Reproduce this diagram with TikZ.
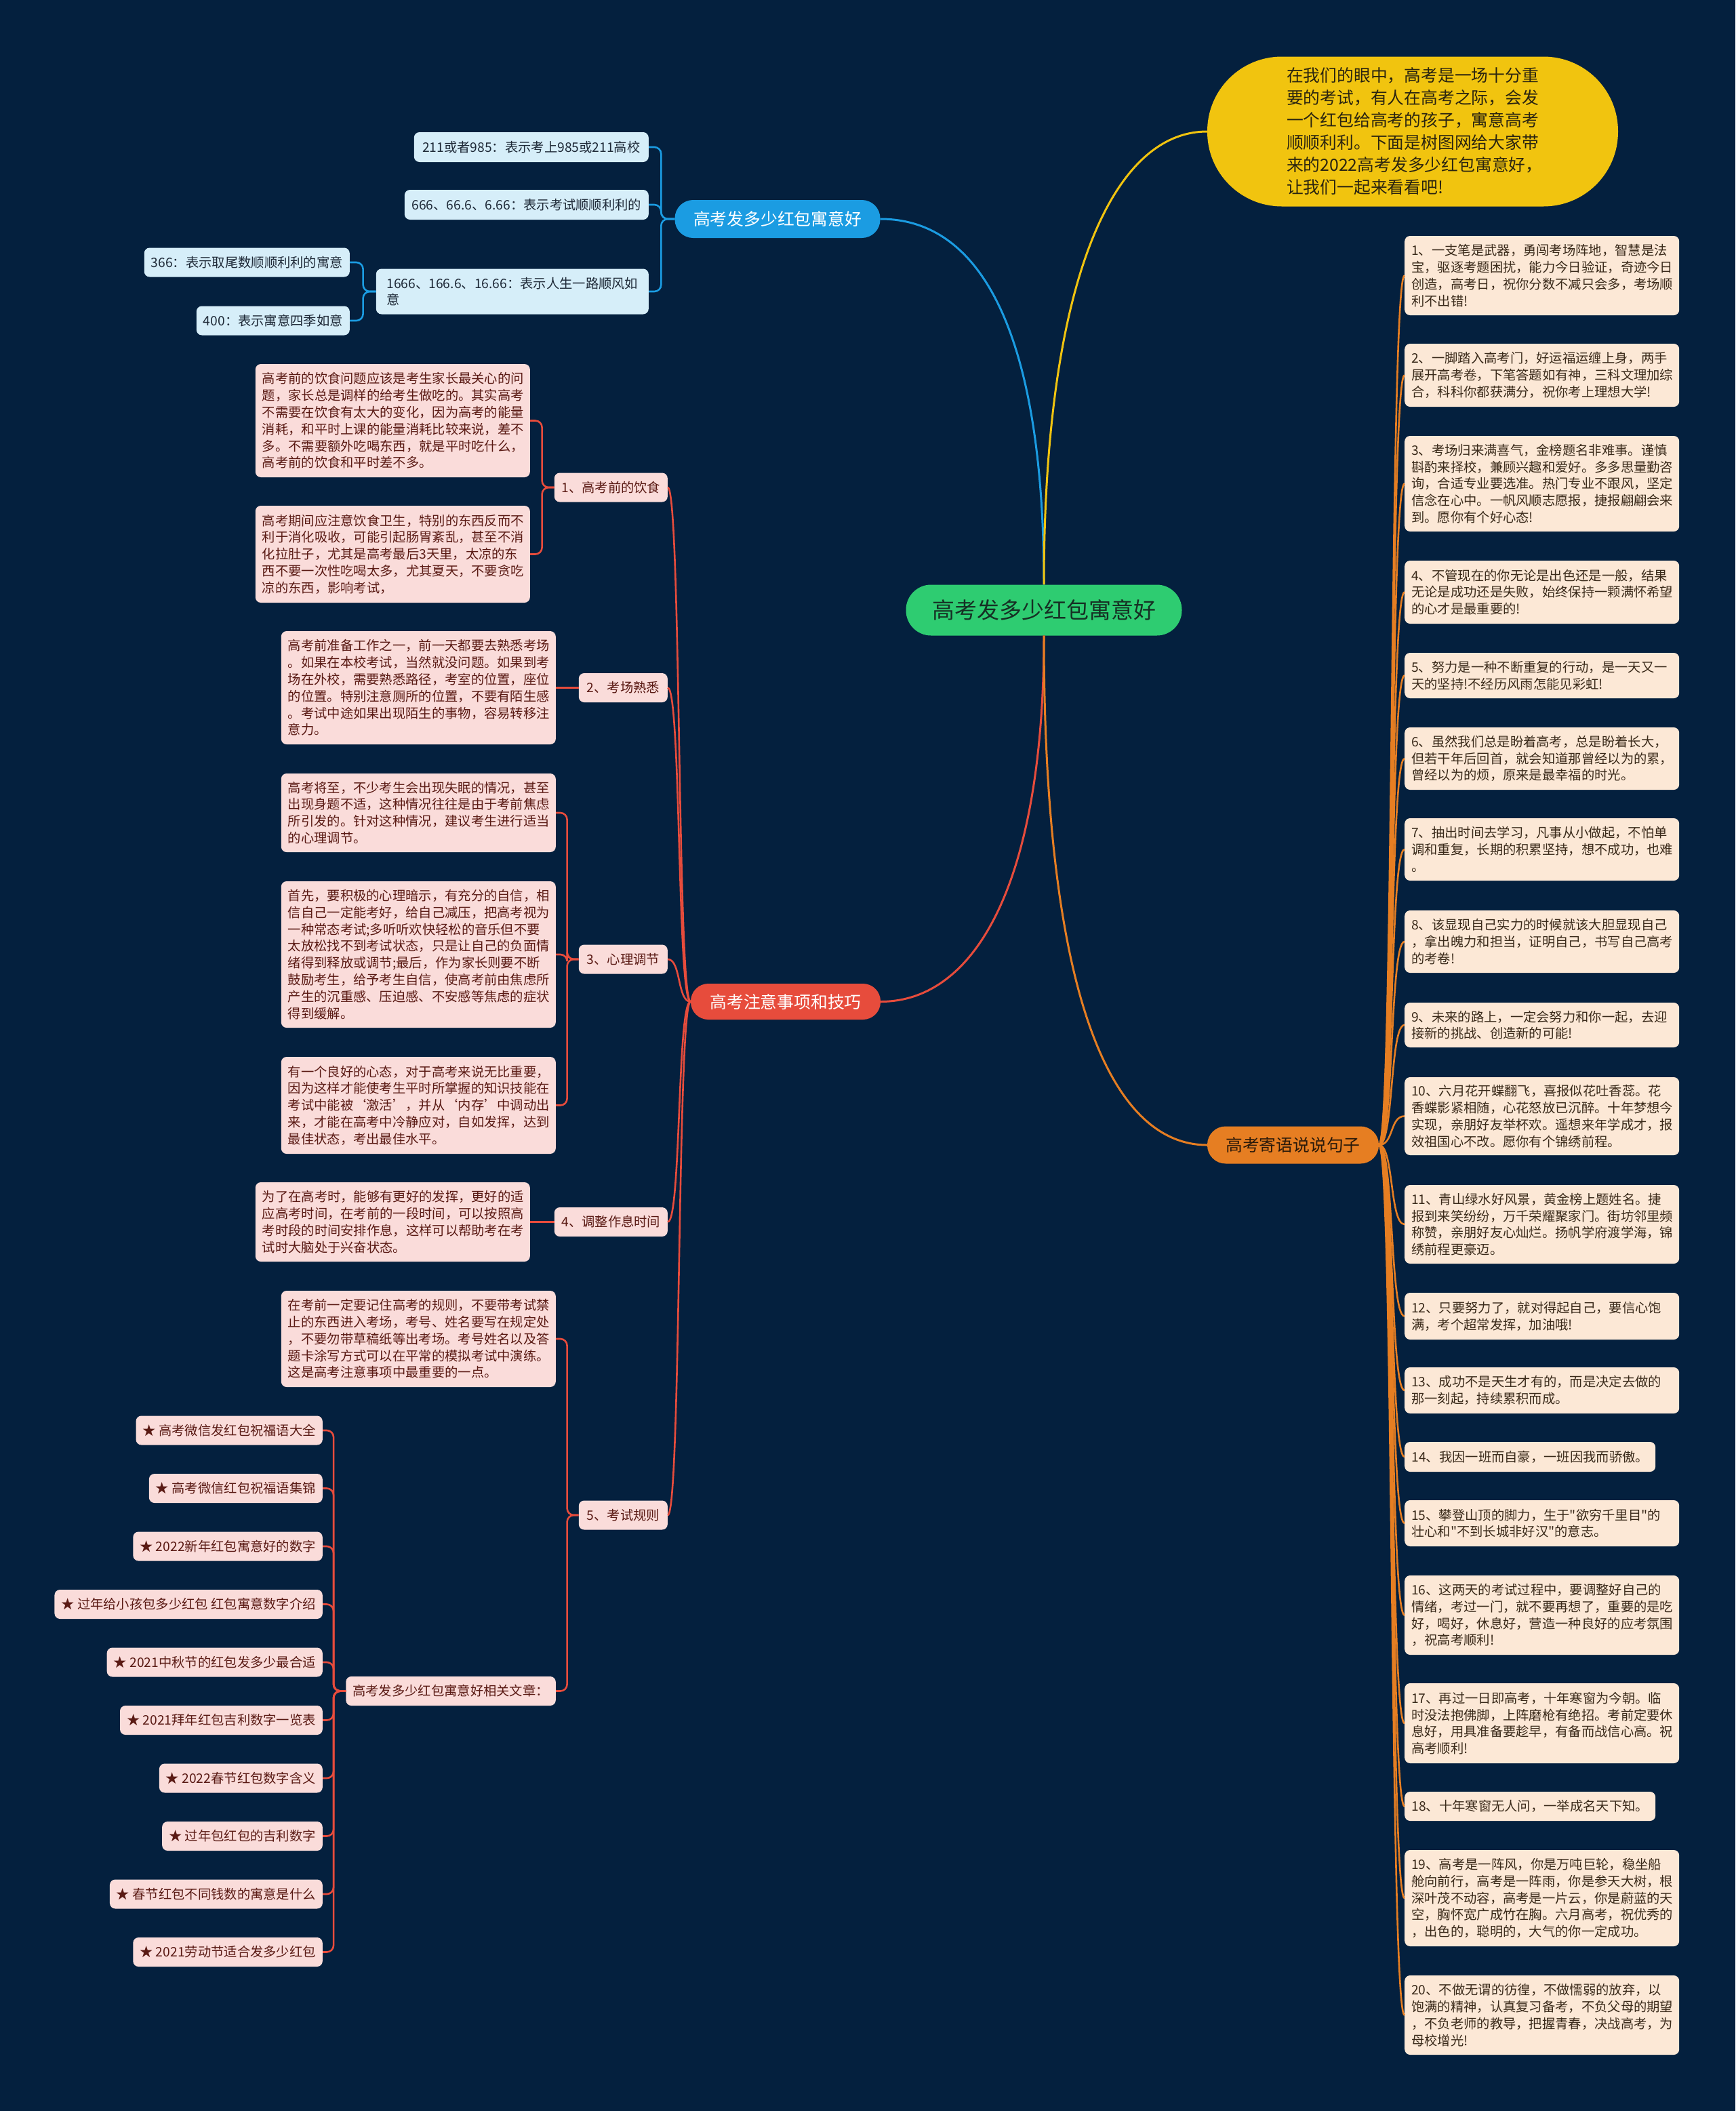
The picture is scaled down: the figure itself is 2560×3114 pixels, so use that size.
\documentclass[tikz,border=0pt]{standalone}
\usepackage{fontspec}
\setmainfont{Noto Sans CJK SC}[Ligatures=TeXOff]
\definecolor{bg}{HTML}{04203E}
\definecolor{rootg}{HTML}{2ECC71}
\definecolor{roottxt}{HTML}{163024}
\definecolor{yel}{HTML}{F1C40F}
\definecolor{yeltxt}{HTML}{2A2410}
\definecolor{blu}{HTML}{1B9CE2}
\definecolor{redc}{HTML}{E74C3C}
\definecolor{ora}{HTML}{E67E22}
\definecolor{oratxt2}{HTML}{2B1A0A}
\definecolor{bluleaf}{HTML}{D6EEF9}
\definecolor{redleaf}{HTML}{FADCDA}
\definecolor{oraleaf}{HTML}{FCE8D6}
\definecolor{redtxt}{HTML}{5A1A14}
\definecolor{oratxt}{HTML}{3A2A1A}
\definecolor{blutxt}{HTML}{1F2A38}
\newcommand{\leaffont}{\fontsize{19.3pt}{24.8pt}\selectfont}
\newcommand{\brfont}{\fontsize{24.8pt}{30pt}\selectfont}
\newcommand{\rootfont}{\fontsize{33pt}{40pt}\selectfont}
\newcommand{\yelfont}{\fontsize{24.8pt}{33pt}\selectfont}
\begin{document}
\begin{tikzpicture}[x=1pt,y=-1pt,
  leaf/.style={rounded corners=8pt, inner xsep=10pt, inner ysep=4pt, font=\leaffont, align=left},
  bleaf/.style={leaf, fill=bluleaf, text=blutxt},
  rleaf/.style={leaf, fill=redleaf, text=redtxt},
  oleaf/.style={leaf, fill=oraleaf, text=oratxt},
  para/.style={text width=385pt},
  brnode/.style={font=\brfont, inner sep=0pt},
  bconn/.style={draw=blu, line width=2.6pt, rounded corners=10pt},
  rconn/.style={draw=redc, line width=2.6pt},
  rbr/.style={draw=redc, line width=2.6pt, rounded corners=10pt},
  oconn/.style={draw=ora, line width=2.6pt}
]
\fill[bg] (0,0) rectangle (2560,3114);
\useasboundingbox (0,0) rectangle (2560,3114);

% root and branches
\node[fill=rootg, text=roottxt, font=\rootfont, rounded corners=37pt, minimum width=407pt, minimum height=75pt, inner sep=0pt] (root) at (1540,900) {高考发多少红包寓意好};
\node[fill=yel, text=yeltxt, font=\yelfont, rounded corners=110pt, minimum width=606pt, minimum height=221pt, align=left, text width=372pt] (yel) at (2084,194) {在我们的眼中，高考是一场十分重\\要的考试，有人在高考之际，会发\\一个红包给高考的孩子，寓意高考\\顺顺利利。下面是树图网给大家带\\来的2022高考发多少红包寓意好，\\让我们一起来看看吧!};
\node[brnode, fill=blu, text=white, minimum width=303pt, minimum height=56pt, rounded corners=27pt] (blue) at (1147,323) {高考发多少红包寓意好};
\node[brnode, fill=redc, text=white, minimum width=280pt, minimum height=53pt, rounded corners=26pt] (red) at (1159,1477.5) {高考注意事项和技巧};
\node[brnode, fill=ora, text=oratxt2, minimum width=253pt, minimum height=55pt, rounded corners=27pt] (orange) at (1907.5,1689) {高考寄语说说句子};

% blue leaves
\node[bleaf, anchor=east, minimum width=346pt, minimum height=44pt] (b1) at (957,217) {211或者985：表示考上985或211高校};
\node[bleaf, anchor=east, minimum width=360pt, minimum height=44pt] (b2) at (957,302) {666、66.6、6.66：表示考试顺顺利利的};
\node[bleaf, anchor=east, minimum width=402pt, minimum height=67pt] (b3) at (957,430) {1666、166.6、16.66：表示人生一路顺风如\\意};
\node[bleaf, anchor=east, minimum width=302pt, minimum height=43pt] (b4) at (516,387) {366：表示取尾数顺顺利利的寓意};
\node[bleaf, anchor=east, minimum width=226pt, minimum height=43pt] (b5) at (516,473) {400：表示寓意四季如意};

% red sub nodes
\node[rleaf, anchor=east, minimum width=167pt, minimum height=43pt] (r1) at (985,719) {1、高考前的饮食};
\node[rleaf, anchor=east, minimum width=131pt, minimum height=43pt] (r2) at (985,1014.5) {2、考场熟悉};
\node[rleaf, anchor=east, minimum width=131pt, minimum height=43pt] (r3) at (985,1415) {3、心理调节};
\node[rleaf, anchor=east, minimum width=167pt, minimum height=43pt] (r4) at (985,1802.5) {4、调整作息时间};
\node[rleaf, anchor=east, minimum width=131pt, minimum height=43pt] (r5) at (985,2235) {5、考试规则};

% red leaves
\node[rleaf, para, anchor=east, minimum height=167pt] (r1a) at (782,620.5) {高考前的饮食问题应该是考生家长最关心的问\\题，家长总是调样的给考生做吃的。其实高考\\不需要在饮食有太大的变化，因为高考的能量\\消耗，和平时上课的能量消耗比较来说，差不\\多。不需要额外吃喝东西，就是平时吃什么，\\高考前的饮食和平时差不多。};
\node[rleaf, para, anchor=east, minimum height=143pt] (r1b) at (782,817.5) {高考期间应注意饮食卫生，特别的东西反而不\\利于消化吸收，可能引起肠胃紊乱，甚至不消\\化拉肚子，尤其是高考最后3天里，太凉的东\\西不要一次性吃喝太多，尤其夏天，不要贪吃\\凉的东西，影响考试，};
\node[rleaf, para, anchor=east, minimum height=167pt] (r2a) at (820,1014.5) {高考前准备工作之一，前一天都要去熟悉考场\\。如果在本校考试，当然就没问题。如果到考\\场在外校，需要熟悉路径，考室的位置，座位\\的位置。特别注意厕所的位置，不要有陌生感\\。考试中途如果出现陌生的事物，容易转移注\\意力。};
\node[rleaf, para, anchor=east, minimum height=116pt] (r3a) at (820,1199) {高考将至，不少考生会出现失眠的情况，甚至\\出现身题不适，这种情况往往是由于考前焦虑\\所引发的。针对这种情况，建议考生进行适当\\的心理调节。};
\node[rleaf, para, anchor=east, minimum height=216pt] (r3b) at (820,1408) {首先，要积极的心理暗示，有充分的自信，相\\信自己一定能考好，给自己减压，把高考视为\\一种常态考试;多听听欢快轻松的音乐但不要\\太放松找不到考试状态，只是让自己的负面情\\绪得到释放或调节;最后，作为家长则要不断\\鼓励考生，给予考生自信，使高考前由焦虑所\\产生的沉重感、压迫感、不安感等焦虑的症状\\得到缓解。};
\node[rleaf, para, anchor=east, minimum height=143pt] (r3c) at (820,1630.5) {有一个良好的心态，对于高考来说无比重要，\\因为这样才能使考生平时所掌握的知识技能在\\考试中能被‘激活’，并从‘内存’中调动出\\来，才能在高考中冷静应对，自如发挥，达到\\最佳状态，考出最佳水平。};
\node[rleaf, para, anchor=east, minimum height=117pt] (r4a) at (782,1802.5) {为了在高考时，能够有更好的发挥，更好的适\\应高考时间，在考前的一段时间，可以按照高\\考时段的时间安排作息，这样可以帮助考在考\\试时大脑处于兴奋状态。};
\node[rleaf, para, anchor=east, minimum height=142pt] (r5a) at (820,1975) {在考前一定要记住高考的规则，不要带考试禁\\止的东西进入考场，考号、姓名要写在规定处\\，不要勿带草稿纸等出考场。考号姓名以及答\\题卡涂写方式可以在平常的模拟考试中演练。\\这是高考注意事项中最重要的一点。};
\node[rleaf, anchor=east, minimum width=308pt, minimum height=43pt] (r5b) at (820,2494.5) {高考发多少红包寓意好相关文章：};

% stars
\node[rleaf, anchor=east, minimum width=272pt, minimum height=43pt] (s1) at (476,2110) {★ 高考微信发红包祝福语大全};
\node[rleaf, anchor=east, minimum width=253pt, minimum height=43pt] (s2) at (476,2195.5) {★ 高考微信红包祝福语集锦};
\node[rleaf, anchor=east, minimum width=278pt, minimum height=43pt] (s3) at (476,2281) {★ 2022新年红包寓意好的数字};
\node[rleaf, anchor=east, minimum width=393pt, minimum height=43pt] (s4) at (476,2366.5) {★ 过年给小孩包多少红包 红包寓意数字介绍};
\node[rleaf, anchor=east, minimum width=317pt, minimum height=43pt] (s5) at (476,2452) {★ 2021中秋节的红包发多少最合适};
\node[rleaf, anchor=east, minimum width=298pt, minimum height=43pt] (s6) at (476,2537.5) {★ 2021拜年红包吉利数字一览表};
\node[rleaf, anchor=east, minimum width=240pt, minimum height=43pt] (s7) at (476,2623) {★ 2022春节红包数字含义};
\node[rleaf, anchor=east, minimum width=233pt, minimum height=43pt] (s8) at (476,2708.5) {★ 过年包红包的吉利数字};
\node[rleaf, anchor=east, minimum width=310pt, minimum height=43pt] (s9) at (476,2794) {★ 春节红包不同钱数的寓意是什么};
\node[rleaf, anchor=east, minimum width=278pt, minimum height=43pt] (s10) at (476,2879.5) {★ 2021劳动节适合发多少红包};

% orange leaves
\node[oleaf, para, anchor=west, minimum height=117pt] (o1) at (2072,406.5) {1、一支笔是武器，勇闯考场阵地，智慧是法\\宝，驱逐考题困扰，能力今日验证，奇迹今日\\创造，高考日，祝你分数不减只会多，考场顺\\利不出错!};
\node[oleaf, para, anchor=west, minimum height=93pt] (o2) at (2072,553.5) {2、一脚踏入高考门，好运福运缠上身，两手\\展开高考卷，下笔答题如有神，三科文理加综\\合，科科你都获满分，祝你考上理想大学!};
\node[oleaf, para, anchor=west, minimum height=141pt] (o3) at (2072,713.5) {3、考场归来满喜气，金榜题名非难事。谨慎\\斟酌来择校，兼顾兴趣和爱好。多多思量勤咨\\询，合适专业要选准。热门专业不跟风，坚定\\信念在心中。一帆风顺志愿报，捷报翩翩会来\\到。愿你有个好心态!};
\node[oleaf, para, anchor=west, minimum height=93pt] (o4) at (2072,873.5) {4、不管现在的你无论是出色还是一般，结果\\无论是成功还是失败，始终保持一颗满怀希望\\的心才是最重要的!};
\node[oleaf, para, anchor=west, minimum height=67pt] (o5) at (2072,996.5) {5、努力是一种不断重复的行动，是一天又一\\天的坚持!不经历风雨怎能见彩虹!};
\node[oleaf, para, anchor=west, minimum height=92pt] (o6) at (2072,1119) {6、虽然我们总是盼着高考，总是盼着长大，\\但若干年后回首，就会知道那曾经以为的累，\\曾经以为的烦，原来是最幸福的时光。};
\node[oleaf, para, anchor=west, minimum height=92pt] (o7) at (2072,1253) {7、抽出时间去学习，凡事从小做起，不怕单\\调和重复，长期的积累坚持，想不成功，也难\\。};
\node[oleaf, para, anchor=west, minimum height=92pt] (o8) at (2072,1389) {8、该显现自己实力的时候就该大胆显现自己\\，拿出魄力和担当，证明自己，书写自己高考\\的考卷!};
\node[oleaf, para, anchor=west, minimum height=66pt] (o9) at (2072,1512) {9、未来的路上，一定会努力和你一起，去迎\\接新的挑战、创造新的可能!};
\node[oleaf, para, anchor=west, minimum height=115pt] (o10) at (2072,1646.5) {10、六月花开蝶翻飞，喜报似花吐香蕊。花\\香蝶影紧相随，心花怒放已沉醉。十年梦想今\\实现，亲朋好友举杯欢。遥想来年学成才，报\\效祖国心不改。愿你有个锦绣前程。};
\node[oleaf, para, anchor=west, minimum height=116pt] (o11) at (2072,1806) {11、青山绿水好风景，黄金榜上题姓名。捷\\报到来笑纷纷，万千荣耀聚家门。街坊邻里频\\称赞，亲朋好友心灿烂。扬帆学府渡学海，锦\\绣前程更豪迈。};
\node[oleaf, para, anchor=west, minimum height=69pt] (o12) at (2072,1941.5) {12、只要努力了，就对得起自己，要信心饱\\满，考个超常发挥，加油哦!};
\node[oleaf, para, anchor=west, minimum height=68pt] (o13) at (2072,2051) {13、成功不是天生才有的，而是决定去做的\\那一刻起，持续累积而成。};
\node[oleaf, anchor=west, minimum width=370pt, minimum height=44pt] (o14) at (2072,2149) {14、我因一班而自豪，一班因我而骄傲。};
\node[oleaf, para, anchor=west, minimum height=68pt] (o15) at (2072,2247) {15、攀登山顶的脚力，生于"欲穷千里目"的\\壮心和"不到长城非好汉"的意志。};
\node[oleaf, para, anchor=west, minimum height=117pt] (o16) at (2072,2382.5) {16、这两天的考试过程中，要调整好自己的\\情绪，考过一门，就不要再想了，重要的是吃\\好，喝好，休息好，营造一种良好的应考氛围\\，祝高考顺利!};
\node[oleaf, para, anchor=west, minimum height=118pt] (o17) at (2072,2542) {17、再过一日即高考，十年寒窗为今朝。临\\时没法抱佛脚，上阵磨枪有绝招。考前定要休\\息好，用具准备要趁早，有备而战信心高。祝\\高考顺利!};
\node[oleaf, anchor=west, minimum width=370pt, minimum height=43pt] (o18) at (2072,2664.5) {18、十年寒窗无人问，一举成名天下知。};
\node[oleaf, para, anchor=west, minimum height=142pt] (o19) at (2072,2800) {19、高考是一阵风，你是万吨巨轮，稳坐船\\舱向前行，高考是一阵雨，你是参天大树，根\\深叶茂不动容，高考是一片云，你是蔚蓝的天\\空，胸怀宽广成竹在胸。六月高考，祝优秀的\\，出色的，聪明的，大气的你一定成功。};
\node[oleaf, para, anchor=west, minimum height=117pt] (o20) at (2072,2972.5) {20、不做无谓的彷徨，不做懦弱的放弃，以\\饱满的精神，认真复习备考，不负父母的期望\\，不负老师的教导，把握青春，决战高考，为\\母校增光!};

% root connectors
\draw[blu, line width=3pt] (root.north) .. controls (1540,520) and (1460,323) .. (blue.east);
\draw[yel, line width=3pt] (root.north) .. controls (1540,420) and (1640,194) .. (yel.west);
\draw[redc, line width=3pt] (root.south) .. controls (1540,1300) and (1440,1477.5) .. (red.east);
\draw[ora, line width=3pt] (root.south) .. controls (1540,1500) and (1650,1689) .. (orange.west);

% blue connectors
\foreach \n in {b1,b2,b3} \draw[bconn] (blue.west) -- ++(-20,0) |- (\n.east);
\foreach \n in {b4,b5} \draw[bconn] (b3.west) -- ++(-19,0) |- (\n.east);

% red connectors
\foreach \n in {r1,r2,r3,r4,r5} \draw[rconn] (red.west) .. controls +(-20,0) and +(20,0) .. (\n.east);
\foreach \n in {r1a,r1b} \draw[rbr] (r1.west) -- ++(-18,0) |- (\n.east);
\draw[rbr] (r2.west) -- (r2a.east);
\foreach \n in {r3a,r3b,r3c} \draw[rbr] (r3.west) -- ++(-17,0) |- (\n.east);
\draw[rbr] (r4.west) -- (r4a.east);
\foreach \n in {r5a,r5b} \draw[rbr] (r5.west) -- ++(-17,0) |- (\n.east);
\foreach \i in {1,...,10} \draw[rbr] (r5b.west) -- ++(-18,0) |- (s\i.east);

% orange connectors
\foreach \i in {1,...,20} \draw[oconn] (orange.east) .. controls +(22,0) and +(-22,0) .. (o\i.west);
\end{tikzpicture}
\end{document}
